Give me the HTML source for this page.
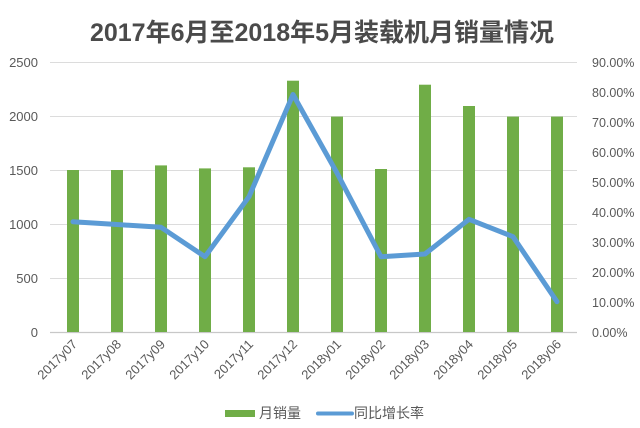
<!DOCTYPE html>
<html><head><meta charset="utf-8">
<style>
html,body{margin:0;padding:0;background:#fff;}
svg{display:block;}
text{font-family:"Liberation Sans","Noto Sans CJK SC",sans-serif;}
</style></head>
<body>
<svg width="640" height="428" viewBox="0 0 640 428" xmlns="http://www.w3.org/2000/svg">
<rect width="640" height="428" fill="#fff"/>
<text x="322" y="41" text-anchor="middle" font-size="25" font-weight="bold" fill="#4a4a4a">2017年6月至2018年5月装载机月销量情况</text>
<!-- gridlines -->
<g stroke="#dcdcdc" stroke-width="1">
<line x1="50" y1="62.5" x2="577" y2="62.5"/>
<line x1="50" y1="116.5" x2="577" y2="116.5"/>
<line x1="50" y1="170.5" x2="577" y2="170.5"/>
<line x1="50" y1="224.5" x2="577" y2="224.5"/>
<line x1="50" y1="278.5" x2="577" y2="278.5"/>
</g>
<line x1="50" y1="332.5" x2="577" y2="332.5" stroke="#c8c8c8" stroke-width="1.2"/>
<!-- left axis labels -->
<g font-size="13" fill="#595959" text-anchor="end">
<text x="38" y="67">2500</text>
<text x="38" y="121">2000</text>
<text x="38" y="175">1500</text>
<text x="38" y="229">1000</text>
<text x="38" y="283">500</text>
<text x="38" y="337">0</text>
</g>
<!-- right axis labels -->
<g font-size="12.5" fill="#595959">
<text x="592" y="67">90.00%</text>
<text x="592" y="97">80.00%</text>
<text x="592" y="127">70.00%</text>
<text x="592" y="157">60.00%</text>
<text x="592" y="187">50.00%</text>
<text x="592" y="217">40.00%</text>
<text x="592" y="247">30.00%</text>
<text x="592" y="277">20.00%</text>
<text x="592" y="307">10.00%</text>
<text x="592" y="337">0.00%</text>
</g>
<!-- bars -->
<g fill="#70ad47">
<rect x="67" y="170" width="12" height="162"/>
<rect x="111" y="170" width="12" height="162"/>
<rect x="155" y="165.4" width="12" height="166.6"/>
<rect x="199" y="168.4" width="12" height="163.6"/>
<rect x="243" y="167.3" width="12" height="164.7"/>
<rect x="287" y="80.7" width="12" height="251.3"/>
<rect x="331" y="116.6" width="12" height="215.4"/>
<rect x="375" y="169" width="12" height="163"/>
<rect x="419" y="84.7" width="12" height="247.3"/>
<rect x="463" y="106" width="12" height="226"/>
<rect x="507" y="116.6" width="12" height="215.4"/>
<rect x="551" y="116.6" width="12" height="215.4"/>
</g>
<!-- line -->
<polyline fill="none" stroke="#5b9bd5" stroke-width="5" stroke-linejoin="round" stroke-linecap="round"
points="73,221.7 117,224.5 161,227.3 205,256.7 249,196.7 293,94.5 337,173 381,256.7 425,254 469,219.3 513,236.7 557,301.7"/>
<!-- x labels -->
<g font-size="13" fill="#595959" text-anchor="end">
<text transform="translate(78,345) rotate(-45)">2017y07</text>
<text transform="translate(122,345) rotate(-45)">2017y08</text>
<text transform="translate(166,345) rotate(-45)">2017y09</text>
<text transform="translate(210,345) rotate(-45)">2017y10</text>
<text transform="translate(254,345) rotate(-45)">2017y11</text>
<text transform="translate(298,345) rotate(-45)">2017y12</text>
<text transform="translate(342,345) rotate(-45)">2018y01</text>
<text transform="translate(386,345) rotate(-45)">2018y02</text>
<text transform="translate(430,345) rotate(-45)">2018y03</text>
<text transform="translate(474,345) rotate(-45)">2018y04</text>
<text transform="translate(518,345) rotate(-45)">2018y05</text>
<text transform="translate(562,345) rotate(-45)">2018y06</text>
</g>
<!-- legend -->
<rect x="225" y="410" width="30" height="7" fill="#70ad47"/>
<text x="259" y="418" font-size="14" fill="#595959">月销量</text>
<line x1="318" y1="413.5" x2="352" y2="413.5" stroke="#5b9bd5" stroke-width="4" stroke-linecap="round"/>
<text x="354" y="418" font-size="14" fill="#595959">同比增长率</text>
</svg>
</body></html>
